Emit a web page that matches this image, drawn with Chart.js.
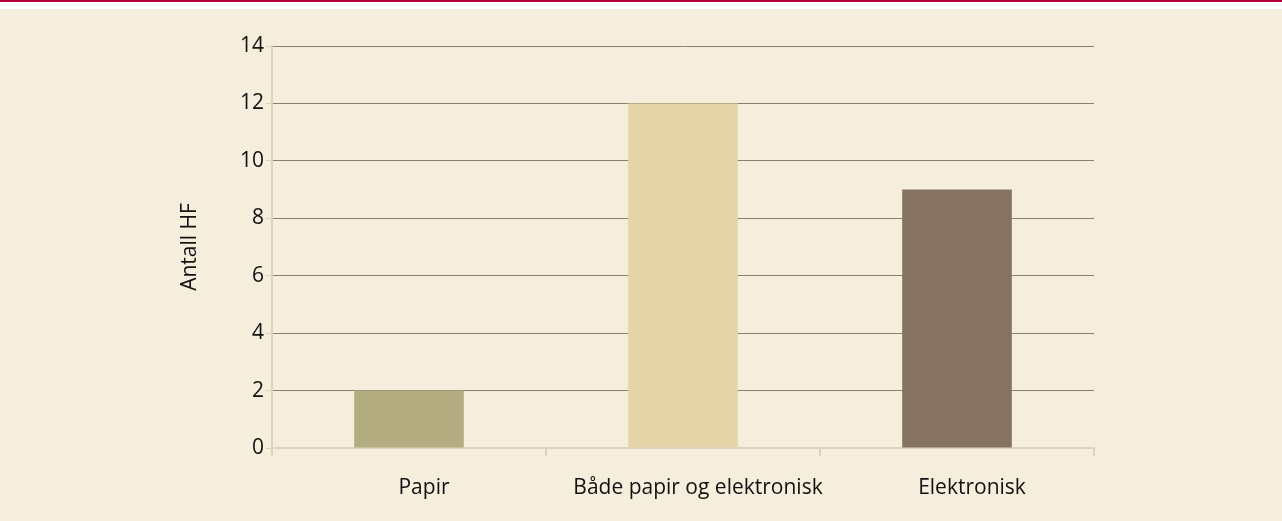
<!DOCTYPE html>
<html>
<head>
<meta charset="utf-8">
<script src="https://cdn.jsdelivr.net/npm/chart.js@4"></script>
<style>
  html, body { margin: 0; padding: 0; background: #ffffff; }
  #topline { height: 2px; background: #b2003a; }
  #panel { position: absolute; left: 0; top: 9px; width: 1282px; height: 512px; background: #f6eedc; }
</style>
</head>
<body>
<div id="topline"></div>
<div id="panel"><canvas id="hf-chart" width="1282" height="512"></canvas></div>
<script>
const categories = ["Papir", "Både papir og elektronisk", "Elektronisk"];
const antallHF = [2, 12, 9];
const barColors = ["#b5ad82", "#e5d4a7", "#857261"];
const yTicks = [0, 2, 4, 6, 8, 10, 12, 14];

const font = { family: "'Open Sans', sans-serif", size: 21 };

new Chart(document.getElementById("hf-chart").getContext("2d"), {
    type: "bar",
    data: {
        labels: categories,
        datasets: [{
            label: "Antall HF",
            data: antallHF,
            backgroundColor: barColors,
            categoryPercentage: 1,
            barPercentage: 0.4
        }]
    },
    options: {
        responsive: false,
        animation: false,
        layout: { padding: { left: 177, right: 188, top: 37, bottom: 0 } },
        plugins: { legend: { display: false }, tooltip: { enabled: false } },
        scales: {
            x: {
                grid: {
                    offset: true,
                    drawOnChartArea: false,
                    drawTicks: true,
                    tickLength: 8,
                    color: "#dcd3be",
                    lineWidth: 2
                },
                border: { color: "#dcd3be", width: 2 },
                ticks: { color: "#111", font: font, padding: 19, maxRotation: 0, labelOffset: 15 },
                afterFit: scale => { scale.height = 73; }
            },
            y: {
                min: 0,
                max: 14,
                afterBuildTicks: scale => { scale.ticks = yTicks.map(v => ({ value: v })); },
                grid: {
                    color: ctx => ctx.tick && ctx.tick.value === 0 ? "rgba(0,0,0,0)" : "#8e7e6e",
                    tickColor: "#dcd3be",
                    tickLength: 6,
                    lineWidth: 1
                },
                border: { color: "#dcd3be", width: 2 },
                ticks: { color: "#111", font: font, padding: 2 },
                title: { display: true, text: "Antall HF", color: "#111", font: font, padding: 0 },
                afterFit: scale => { scale.width = 95; }
            }
        }
    }
});
</script>
</body>
</html>
